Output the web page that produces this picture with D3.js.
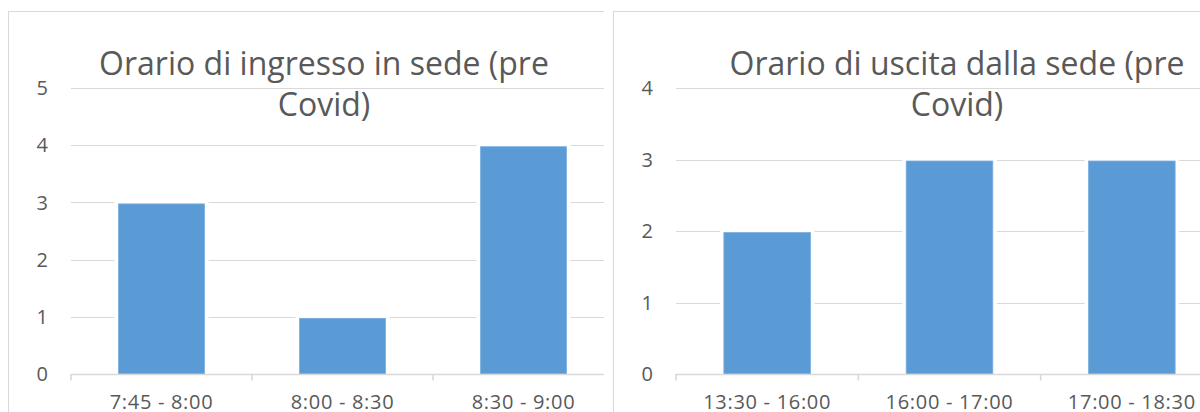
<!DOCTYPE html>
<html>
<head>
<meta charset="utf-8">
<script src="https://cdn.jsdelivr.net/npm/d3@7"></script>
<style>
  html, body { margin: 0; padding: 0; background: #fff; }
  svg { display: block; }
  text { font-family: "Open Sans", "Noto Sans", sans-serif; fill: #595959; }
</style>
</head>
<body>
<svg id="chart" width="1200" height="412"></svg>
<script>
// Arrival times (pre Covid)
const entryCategories = ["7:45 - 8:00", "8:00 - 8:30", "8:30 - 9:00"];
const entryCounts = [3, 1, 4];
const entryTicks = [0, 1, 2, 3, 4, 5];
const entryTitle = ["Orario di ingresso in sede (pre", "Covid)"];

// Departure times (pre Covid)
const exitCategories = ["13:30 - 16:00", "16:00 - 17:00", "17:00 - 18:30"];
const exitCounts = [2, 3, 3];
const exitTicks = [0, 1, 2, 3, 4];
const exitTitle = ["Orario di uscita dalla sede (pre", "Covid)"];

const svg = d3.select("#chart");
const GRID = "#d9d9d9";
const BAR = "#5b9bd5";

function drawPanel(opts) {
  const { id, frame, clipRight, plot, titleCenter, title, categories, values, ticks } = opts;

  const defs = svg.append("defs");
  defs.append("clipPath").attr("id", id + "-clip")
    .append("rect").attr("x", 0).attr("y", 0)
    .attr("width", clipRight).attr("height", 412);

  const g = svg.append("g").attr("clip-path", `url(#${id}-clip)`);

  // chart frame
  g.append("rect")
    .attr("x", frame.x + 0.5).attr("y", frame.y + 0.5)
    .attr("width", frame.w).attr("height", frame.h)
    .attr("fill", "#fff").attr("stroke", GRID).attr("stroke-width", 1);

  const y = d3.scaleLinear()
    .domain([0, d3.max(ticks)])
    .range([plot.bottom, plot.top]);

  const x = d3.scaleBand()
    .domain(categories)
    .range([plot.left, plot.right])
    .paddingInner(0.525)
    .paddingOuter(0.2625);

  const step = x.step();

  // horizontal gridlines
  g.append("g").selectAll("line")
    .data(ticks.filter(t => t > 0))
    .join("line")
    .attr("x1", plot.left).attr("x2", plot.right)
    .attr("y1", d => Math.round(y(d)) + 0.5).attr("y2", d => Math.round(y(d)) + 0.5)
    .attr("stroke", GRID).attr("stroke-width", 1.2);

  // y tick labels
  g.append("g").selectAll("text")
    .data(ticks)
    .join("text")
    .attr("x", plot.left - 23)
    .attr("y", d => y(d))
    .attr("dy", "0.36em")
    .attr("text-anchor", "end")
    .attr("font-size", 20)
    .text(d => d);

  // white halo around bars (breaks the gridlines)
  g.append("g").selectAll("rect")
    .data(values)
    .join("rect")
    .attr("x", (d, i) => x(categories[i]) - 4)
    .attr("width", x.bandwidth() + 8)
    .attr("y", d => y(d) - 4)
    .attr("height", d => y(0) - y(d) + 4)
    .attr("fill", "#fff");

  // bars
  g.append("g").selectAll("rect")
    .data(values)
    .join("rect")
    .attr("x", (d, i) => x(categories[i]))
    .attr("width", x.bandwidth())
    .attr("y", d => y(d) + 1.5)
    .attr("height", d => y(0) - y(d) - 1.5)
    .attr("fill", BAR)
    .attr("stroke", "#7aaedf").attr("stroke-width", 0.8);

  // category axis line and boundary ticks
  g.append("line")
    .attr("x1", plot.left).attr("x2", plot.right)
    .attr("y1", y(0) + 0.5).attr("y2", y(0) + 0.5)
    .attr("stroke", GRID).attr("stroke-width", 1.6);

  g.append("g").selectAll("line")
    .data(d3.range(categories.length + 1))
    .join("line")
    .attr("x1", i => plot.left + i * step).attr("x2", i => plot.left + i * step)
    .attr("y1", y(0)).attr("y2", y(0) + 6.5)
    .attr("stroke", GRID).attr("stroke-width", 1.6);

  // category labels
  g.append("g").selectAll("text")
    .data(categories)
    .join("text")
    .attr("x", d => x(d) + x.bandwidth() / 2)
    .attr("y", 409)
    .attr("text-anchor", "middle")
    .attr("font-size", 20)
    .attr("letter-spacing", 0.7)
    .text(d => d);

  // title
  g.append("g").selectAll("text")
    .data(title)
    .join("text")
    .attr("x", titleCenter)
    .attr("y", (d, i) => 75 + i * 41)
    .attr("text-anchor", "middle")
    .attr("font-size", 32)
    .text(d => d);
}

drawPanel({
  id: "entry",
  frame: { x: 8, y: 11, w: 632, h: 420 },
  clipRight: 604,
  plot: { left: 71, right: 614, top: 88, bottom: 374 },
  titleCenter: 324,
  title: entryTitle,
  categories: entryCategories,
  values: entryCounts,
  ticks: entryTicks
});

drawPanel({
  id: "exit",
  frame: { x: 613, y: 11, w: 700, h: 420 },
  clipRight: 1200,
  plot: { left: 676, right: 1223, top: 88, bottom: 374 },
  titleCenter: 957,
  title: exitTitle,
  categories: exitCategories,
  values: exitCounts,
  ticks: exitTicks
});
</script>
</body>
</html>
